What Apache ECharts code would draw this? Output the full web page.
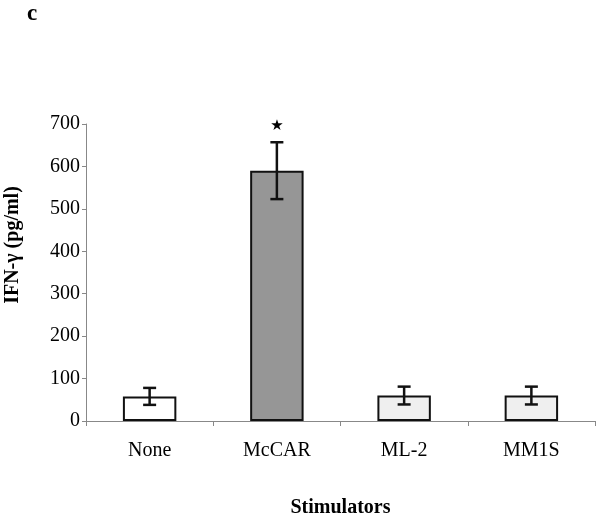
<!DOCTYPE html>
<html><head><meta charset="utf-8">
<script src="https://cdn.jsdelivr.net/npm/echarts@6/dist/echarts.min.js"></script>
<style>html,body{margin:0;padding:0;background:#fff}#c{width:600px;height:518px}</style>
</head><body><div id="c"></div>
<script>
const categories = ['None', 'McCAR', 'ML-2', 'MM1S'];
const means = [58, 590, 60, 60];
const errors = [20, 67, 21, 21];
const significance = ['', '★', '', ''];
const barColors = ['#ffffff', '#969696', '#efefef', '#efefef'];
const yTicks = [0, 100, 200, 300, 400, 500, 600, 700];

const font = 'Liberation Serif, Times New Roman, serif';
const chart = echarts.init(document.getElementById('c'));
chart.setOption({
  animation: false,
  backgroundColor: '#fff',
  title: { text: 'c', left: 22, top: -2, textStyle: { fontFamily: font, fontWeight: 'bold', fontSize: 23, color: '#000' } },
  graphic: [{
    type: 'text', x: 13, y: 245, rotation: Math.PI / 2,
    style: { text: 'IFN-γ (pg/ml)', fontFamily: font, fontWeight: 'bold', fontSize: 20, fill: '#000', textAlign: 'center', textVerticalAlign: 'middle' }
  }],
  grid: { left: 86, right: 5, top: 124, bottom: 97, containLabel: false, outerBoundsMode: 'none' },
  xAxis: {
    type: 'category', data: categories,
    name: 'Stimulators', nameLocation: 'middle', nameGap: 77,
    nameTextStyle: { fontFamily: font, fontWeight: 'bold', fontSize: 20, color: '#000' },
    axisLine: { lineStyle: { color: '#888', width: 1 } },
    axisTick: { show: true, alignWithLabel: false, length: 5, lineStyle: { color: '#888' } },
    axisLabel: { fontFamily: font, fontSize: 20, color: '#000', margin: 20 }
  },
  yAxis: {
    type: 'value', min: yTicks[0], max: yTicks[yTicks.length - 1], interval: 100,
    axisLine: { show: true, lineStyle: { color: '#888', width: 1 } },
    axisTick: { show: true, length: 4, lineStyle: { color: '#888' } },
    splitLine: { show: false },
    axisLabel: { fontFamily: font, fontSize: 20, color: '#000', margin: 6 }
  },
  series: [
    {
      type: 'bar', barWidth: '42%',
      data: means.map((v, i) => ({ value: v, itemStyle: { color: barColors[i] } })),
      itemStyle: { borderColor: '#111', borderWidth: 2 }
    },
    {
      type: 'custom',
      data: means.map((v, i) => [i, v - errors[i], v + errors[i], significance[i]]),
      renderItem: function (params, api) {
        const x = api.coord([api.value(0), 0])[0];
        const lo = api.coord([api.value(0), api.value(1)])[1];
        const hi = api.coord([api.value(0), api.value(2)])[1];
        const hw = 6.5;
        const st = { stroke: '#111', lineWidth: 2.5 };
        const children = [
          { type: 'line', shape: { x1: x, y1: lo, x2: x, y2: hi }, style: st },
          { type: 'line', shape: { x1: x - hw, y1: lo, x2: x + hw, y2: lo }, style: st },
          { type: 'line', shape: { x1: x - hw, y1: hi, x2: x + hw, y2: hi }, style: st }
        ];
        const s = significance[params.dataIndex];
        if (s) {
          children.push({ type: 'text', style: { text: s, x: x, y: hi - 9, textAlign: 'center', textVerticalAlign: 'bottom', fontSize: 15, fill: '#000', fontFamily: 'DejaVu Sans' } });
        }
        return { type: 'group', children: children };
      },
      z: 5
    }
  ]
});
</script></body></html>
